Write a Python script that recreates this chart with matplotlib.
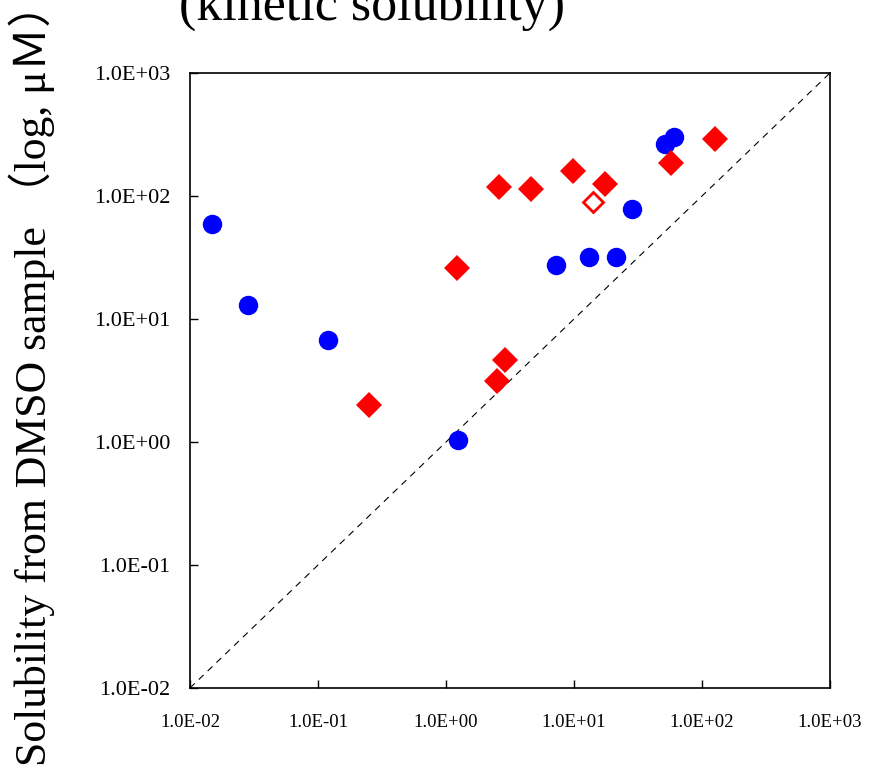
import matplotlib.pyplot as plt
from matplotlib.ticker import FixedLocator, NullLocator

# Blue circles
blue_x = [0.0149, 0.0284, 0.120, 1.24, 7.2, 13.1, 21.3, 28.4, 51.4, 60.4]
blue_y = [59.2, 13.0, 6.75, 1.04, 27.5, 31.9, 31.9, 78.3, 265, 302]

# Red filled diamonds
red_x = [0.25, 1.22, 2.50, 2.89, 2.59, 4.61, 9.82, 17.5, 57.3, 127]
red_y = [2.0, 26.0, 3.13, 4.65, 118, 114, 160, 125, 185, 290]

# Red open diamond
open_x = [14.1]
open_y = [89.4]

ticks = [1e-2, 1e-1, 1e0, 1e1, 1e2, 1e3]
tick_labels = ['1.0E-02', '1.0E-01', '1.0E+00', '1.0E+01', '1.0E+02', '1.0E+03']

fig = plt.figure(figsize=(8.74, 7.68), dpi=100)
ax = fig.add_axes([190 / 874, 80 / 768, 640 / 874, 615 / 768])

ax.set_xscale('log')
ax.set_yscale('log')
ax.set_xlim(1e-2, 1e3)
ax.set_ylim(1e-2, 1e3)

# 1:1 line
ax.plot([1e-2, 1e3], [1e-2, 1e3], color='black', linestyle=(0, (6, 5)), linewidth=0.8, zorder=1)

ax.plot(blue_x, blue_y, 'o', color='#0000ff', markersize=14, markeredgewidth=0, zorder=3)
ax.plot(red_x, red_y, 'D', color='#ff0000', markersize=13.2, markeredgewidth=0, zorder=3)
ax.plot(open_x, open_y, 'D', markerfacecolor='white', markeredgecolor='#ff0000',
        markersize=10.0, markeredgewidth=2, zorder=3)

ax.xaxis.set_major_locator(FixedLocator(ticks))
ax.yaxis.set_major_locator(FixedLocator(ticks))
ax.xaxis.set_minor_locator(NullLocator())
ax.yaxis.set_minor_locator(NullLocator())
ax.set_xticklabels(tick_labels, fontfamily='Liberation Serif', fontsize=13.5)
ax.set_yticklabels(tick_labels, fontfamily='Liberation Serif', fontsize=16)
ax.tick_params(axis='x', direction='in', length=6, width=1, pad=19)
ax.tick_params(axis='y', direction='in', length=6, width=1, pad=14)

for sp in ax.spines.values():
    sp.set_linewidth(1.2)

fig.text(9 / 874, 2 / 768, 'Solubility from DMSO sample \uff08log, \u03bc\uff2d\uff09',
         rotation=90, ha='left', va='bottom', fontsize=31.5,
         family=['Liberation Serif', 'Noto Sans CJK JP'])

fig.text(372 / 874, 1 - 20 / 768, '(kinetic solubility)', ha='center', va='baseline',
         fontsize=37.5, family='Liberation Serif')

fig.savefig('out.png', dpi=100)
